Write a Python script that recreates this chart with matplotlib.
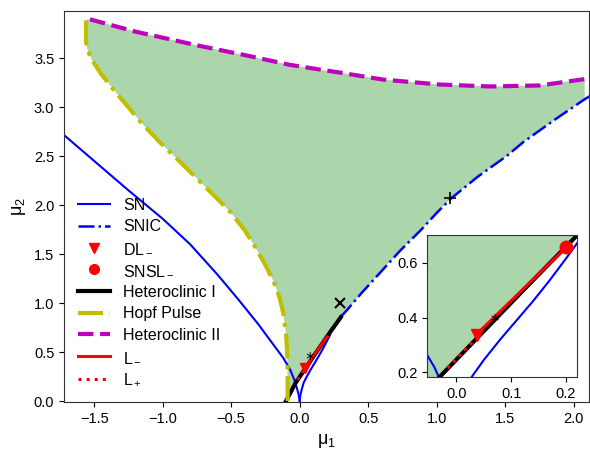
import matplotlib
matplotlib.use("Agg")
import matplotlib.pyplot as plt
import numpy as np

plt.rcParams['font.family'] = ['Liberation Sans', 'DejaVu Sans']
plt.rcParams['mathtext.fontset'] = 'custom'
plt.rcParams['mathtext.rm'] = 'Liberation Sans'
plt.rcParams['mathtext.it'] = 'Liberation Sans'
plt.rcParams['font.size'] = 10.5

# ---- data ----
sn_left_x = [-1.75, -1.5, -1.25, -1.0, -0.8, -0.6, -0.45, -0.3, -0.2, -0.12, -0.07, -0.04, -0.02, -0.007, 0.0]
sn_left_y = [2.75, 2.45, 2.15, 1.86, 1.60, 1.29, 1.04, 0.78, 0.59, 0.44, 0.32, 0.22, 0.13, 0.06, 0.0]
sn_right_x = [0.0, 0.005, 0.015, 0.0285, 0.05, 0.08, 0.11, 0.14, 0.17, 0.2, 0.22]
sn_right_y = [0.0, 0.06, 0.12, 0.185, 0.245, 0.32, 0.39, 0.46, 0.535, 0.615, 0.67]

snic_x = [0.30, 0.34, 0.45, 0.60, 0.73, 0.888, 1.00, 1.107, 1.30, 1.51, 1.63, 1.85, 2.08, 2.15]
snic_y = [0.86, 0.92, 1.10, 1.33, 1.53, 1.75, 1.92, 2.07, 2.29, 2.50, 2.64, 2.86, 3.08, 3.14]

het1_x = [-0.10, -0.032, 0.0436, 0.12, 0.218, 0.30]
het1_y = [0.0, 0.18, 0.337, 0.495, 0.695, 0.855]

hopf_x = [-0.088, -0.088, -0.09, -0.10, -0.12, -0.146, -0.19, -0.24, -0.32, -0.40, -0.50,
          -0.62, -0.75, -0.88, -1.02, -1.15, -1.27, -1.36, -1.45, -1.52, -1.55, -1.56, -1.56]
hopf_y = [0.0, 0.2, 0.45, 0.69, 0.90, 1.05, 1.22, 1.36, 1.56, 1.74, 1.92,
          2.09, 2.27, 2.45, 2.64, 2.83, 3.03, 3.18, 3.34, 3.49, 3.59, 3.67, 3.89]

het2_x = [-1.53, -1.2, -0.75, -0.40, -0.07, 0.30, 0.61, 1.02, 1.39, 1.75, 2.08]
het2_y = [3.895, 3.77, 3.63, 3.53, 3.43, 3.35, 3.28, 3.23, 3.21, 3.22, 3.285]

lminus_x = [0.036, 0.20]
lminus_y = [0.337, 0.655]
lplus_x = [-0.016, 0.036]
lplus_y = [0.216, 0.325]

dl_x, dl_y = 0.038, 0.335
snsl_x, snsl_y = 0.20, 0.655
star_x, star_y = 0.07, 0.365
cross_x, cross_y = 0.295, 1.00
plus_x, plus_y = 1.10, 2.075

xticks_main = [-1.5, -1.0, -0.5, 0.0, 0.5, 1.0, 1.5, 2.0]
yticks_main = [0.0, 0.5, 1.0, 1.5, 2.0, 2.5, 3.0, 3.5]
xticks_ins = [0.0, 0.1, 0.2]
yticks_ins = [0.2, 0.4, 0.6]

# ---- figure ----
fig = plt.figure(figsize=(5.9, 4.53), dpi=100)
ax = fig.add_axes([0.1085, 0.1115, 0.8895, 0.8642])
axin = fig.add_axes([0.724, 0.168, 0.254, 0.313])

# fill polygon
snic_cut = [(x, y) for x, y in zip(snic_x, snic_y) if x <= het2_x[-1]]
poly_x = list(hopf_x) + list(het2_x) + [x for x, _ in snic_cut][::-1] + list(het1_x)[::-1]
poly_y = list(hopf_y) + list(het2_y) + [y for _, y in snic_cut][::-1] + list(het1_y)[::-1]


def draw(a, main):
    a.fill(poly_x, poly_y, color='g', alpha=0.33, lw=0)
    a.plot(sn_left_x, sn_left_y, color='b', lw=1.5, label='SN')
    a.plot(sn_right_x, sn_right_y, color='b', lw=1.5)
    a.plot(snic_x, snic_y, color='b', lw=1.8, ls='-.', label='SNIC')
    a.plot([], [], 'rv', ms=7, label='DL$_-$')
    a.plot([], [], 'ro', ms=7, label='SNSL$_-$')
    a.plot(het1_x, het1_y, color='k', lw=3, label='Heteroclinic I')
    a.plot(hopf_x, hopf_y, color='y', lw=3, ls=(0, (6, 1.6, 1, 1.6)), label='Hopf Pulse')
    a.plot(het2_x, het2_y, color='m', lw=3, ls='--', label='Heteroclinic II')
    a.plot(lminus_x, lminus_y, color='r', lw=2.2, label='L$_-$')
    a.plot(lplus_x, lplus_y, color='r', lw=2.2, ls=':', label='L$_+$')
    a.plot([dl_x], [dl_y], 'rv', ms=9 if not main else 7)
    if not main:
        a.plot([snsl_x], [snsl_y], 'ro', ms=9)
    a.text(star_x, star_y, '*', ha='center', va='baseline', fontsize=12, color='k',
           family='DejaVu Sans')
    a.plot([cross_x], [cross_y], 'kx', ms=7, mew=1.5)
    a.plot([plus_x], [plus_y], 'k+', ms=8, mew=1.2)


draw(ax, True)
draw(axin, False)

ax.set_xlim(-1.72, 2.11)
ax.set_ylim(-0.015, 3.98)
ax.set_xticks(xticks_main)
ax.set_yticks(yticks_main)
ax.set_xlabel('μ$_1$', fontsize=13)
ax.set_ylabel('μ$_2$', fontsize=13)
ax.legend(loc='lower left', frameon=False, fontsize=11.5, handlelength=2.0,
          labelspacing=0.42)

axin.set_xlim(-0.053, 0.22)
axin.set_ylim(0.184, 0.70)
axin.set_xticks(xticks_ins)
axin.set_yticks(yticks_ins)
axin.set_xticklabels([f'{t:.1f}' for t in xticks_ins])
axin.set_yticklabels([f'{t:.1f}' for t in yticks_ins])

for a in (ax, axin):
    for s in a.spines.values():
        s.set_color('#333333')
    a.tick_params(labelsize=10.5)

fig.savefig('out.png', dpi=100)
